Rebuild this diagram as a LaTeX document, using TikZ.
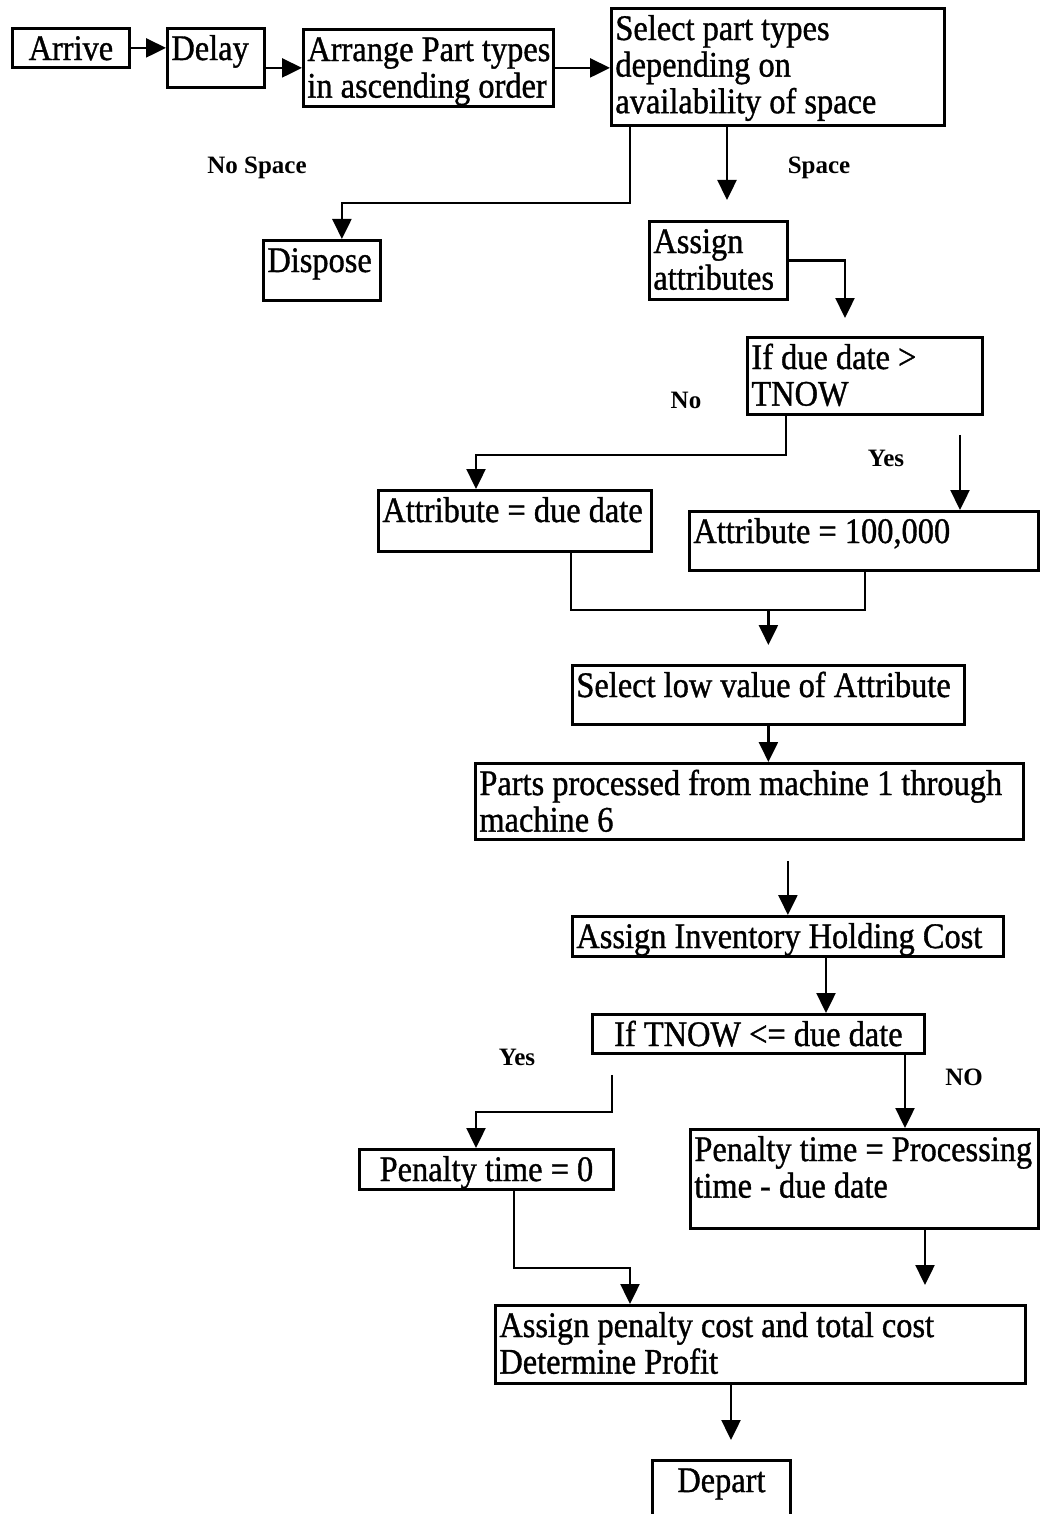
\documentclass[tikz,border=0pt]{standalone}
\usepackage{fontspec}
\setmainfont{Liberation Serif}[FakeStretch=0.9,FakeBold=1]
\newfontfamily\lblfont{Liberation Serif}
\usetikzlibrary{arrows.meta,calc}
\newlength{\pxu}\setlength{\pxu}{0.5pt}
\newcommand{\bx}[4][l]{\parbox[c][\dimexpr#3\pxu-12\pxu\relax][t]{\dimexpr#2\pxu-8\pxu\relax}{\ifx c#1\centering\fi\begin{tabular}[t]{@{}#1@{}}#4\end{tabular}}}
\begin{document}
\begin{tikzpicture}[x=0.5pt,y=-0.5pt,
	blk/.style={draw, line width=1.4pt, inner xsep=2pt, inner ysep=3pt, anchor=north west, font=\fontsize{18pt}{18.3pt}\selectfont},
	lbl/.style={font=\lblfont\bfseries\fontsize{12.5pt}{14pt}\selectfont},
	arr/.style={line width=1.2pt, -{Triangle[length=10pt,width=9.5pt]}},
	lne/.style={line width=1.2pt}]
	\useasboundingbox (0,0) rectangle (1039,1514);
	\node (arrive) at (11,27)	[blk]	{\bx[c]{117}{39}{Arrive}};
	\node (delay) at (166,27)	[blk]	{\bx{97}{59}{Delay}};
	\node (arrange) at (302,28)	[blk]	{\bx{250}{77}{Arrange Part types\\in ascending order}};
	\node (select) at (610,7)	[blk]	{\bx{333}{117}{Select part types\\depending on\\availability of space}};
	\node (dispose) at (262,239)	[blk]	{\bx{117}{60}{Dispose}};
	\node (assign) at (648,220)	[blk]	{\bx{138}{78}{Assign\\attributes}};
	\node (due) at (746,336)	[blk]	{\bx{235}{77}{If due date >\\TNOW}};
	\node (attdue) at (377,489)	[blk]	{\bx{273}{61}{Attribute = due date}};
	\node (atthigh) at (688,510)	[blk]	{\bx{349}{59}{Attribute = 100,000}};
	\node (low) at (571,664)	[blk]	{\bx{392}{59}{Select low value of Attribute}};
	\node (parts) at (474,762)	[blk]	{\bx{548}{76}{Parts processed from machine 1 through\\machine 6}};
	\node (hold) at (571,915)	[blk]	{\bx{431}{40}{Assign Inventory Holding Cost}};
	\node (tnow) at (591,1013)	[blk]	{\bx[c]{332}{39}{If TNOW <= due date}};
	\node (penzero) at (358,1148)	[blk]	{\bx[c]{254}{40}{Penalty time = 0}};
	\node (penproc) at (689,1128)	[blk]	{\bx{348}{99}{Penalty time = Processing\\time - due date}};
	\node (profit) at (494,1304)	[blk]	{\bx{530}{78}{Assign penalty cost and total cost\\Determine Profit}};
	\node (depart) at (651,1459)	[blk]	{\bx[c]{138}{64}{Depart}};
	\node (lnospace) at (257,168)	[lbl]	{No Space};
	\node (lspace) at (819,168)	[lbl]	{Space};
	\node (lno) at (686,400)	[lbl]	{No};
	\node (lyes) at (886,458)	[lbl]	{Yes};
	\node (lyestwo) at (517,1057)	[lbl]	{Yes};
	\node (lnotwo) at (964,1077)	[lbl]	{NO};
	\draw[arr] (arrive.east) -- (arrive.east -| delay.west);
	\draw[arr] (delay.east |- arrange.west) -- (arrange.west);
	\draw[arr] (arrange.east) -- (arrange.east -| select.west);
	\draw[arr] ($(select.south west)+(20,0)$) -- ++(0,76) -| ($(dispose.north)+(20,0)$);
	\draw[arr, shorten >=10pt] ($(select.south west)+(117,0)$) -- ($(assign.north west)+(79,0)$);
	\draw[arr, shorten >=9pt] (assign.east) -| ($(due.north west)+(99,0)$);
	\draw[arr] ($(due.south west)+(40,0)$) -- ++(0,39) -| ($(attdue.north west)+(99,0)$);
	\draw[arr, shorten <=9.5pt] ($(due.south west)+(214,0)$) -- ($(atthigh.north west)+(272,0)$);
	\coordinate (merge) at ($(attdue.south west)+(194,57)$);
	\draw[lne] ($(attdue.south west)+(194,0)$) -- (merge) -| ($(atthigh.south west)+(177,0)$);
	\draw[arr, shorten >=9.5pt] (merge -| low.north) -- (low.north);
	\draw[arr] (low.south) -- (low.south |- parts.north);
	\draw[arr, shorten <=10pt] (parts.south -| hold.north) -- (hold.north);
	\draw[arr] ($(hold.south west)+(255,0)$) -- ($(tnow.north west)+(235,0)$);
	\draw[arr, shorten <=10pt] ($(tnow.south west)+(21,0)$) -- ++(0,57) -| ($(penzero.north west)+(118,0)$);
	\draw[arr] ($(tnow.south west)+(314,0)$) -- ($(penproc.north west)+(216,0)$);
	\draw[arr] ($(penzero.south west)+(156,0)$) -- ++(0,77) -| ($(profit.north west)+(136,0)$);
	\draw[arr, shorten >=9.5pt] ($(penproc.south west)+(236,0)$) -- ($(profit.north west)+(431,0)$);
	\draw[arr, shorten >=9.5pt] ($(profit.south west)+(237,0)$) -- ($(depart.north west)+(80,0)$);
\end{tikzpicture}
\end{document}
